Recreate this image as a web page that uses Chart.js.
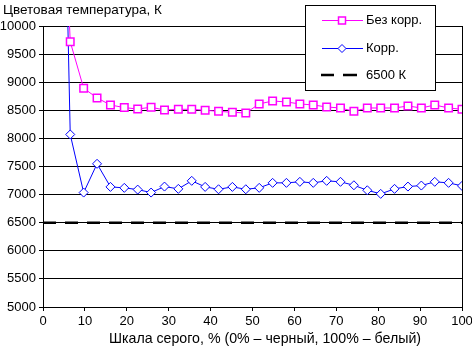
<!DOCTYPE html>
<html><head><meta charset="utf-8">
<script src="https://cdn.jsdelivr.net/npm/chart.js@4/dist/chart.umd.min.js"></script>
<style>html,body{margin:0;padding:0;background:#fff}</style>
</head><body>
<canvas id="c" width="472" height="349"></canvas>
<script>
// Gray level (%), measurement points
const grayLevels = [3.2, 6.5, 9.7, 12.9, 16.1, 19.4, 22.6, 25.8, 29.0, 32.3, 35.5, 38.7, 41.9, 45.2, 48.4, 51.6, 54.8, 58.1, 61.3, 64.5, 67.7, 71.0, 74.2, 77.4, 80.6, 83.9, 87.1, 90.3, 93.5, 96.8, 100];
// Colour temperature without correction (K)
const noCorr = [15400, 9720, 8893, 8720, 8595, 8548, 8523, 8554, 8505, 8518, 8518, 8500, 8482, 8464, 8452, 8613, 8666, 8648, 8613, 8595, 8559, 8541, 8482, 8541, 8541, 8541, 8577, 8541, 8595, 8541, 8518];
// Colour temperature with correction (K)
const corr = [19480, 8070, 7036, 7548, 7137, 7120, 7089, 7036, 7143, 7102, 7245, 7137, 7095, 7137, 7095, 7120, 7209, 7209, 7227, 7209, 7245, 7227, 7166, 7077, 7013, 7102, 7143, 7161, 7227, 7209, 7155];
// Reference 6500 K line
const refX = [0, 100];
const refY = [6500, 6500];
// Tick values
const xTicks = [0, 10, 20, 30, 40, 50, 60, 70, 80, 90, 100];
const yTicks = [5000, 5500, 6000, 6500, 7000, 7500, 8000, 8500, 9000, 9500, 10000];
// Texts
const yTitle = 'Цветовая температура, К';
const xTitle = 'Шкала серого, % (0% – черный, 100% – белый)';
const seriesNames = ['Без корр.', 'Корр.', '6500 К'];

const FONT = '"Liberation Sans", Arial, sans-serif';
const MAGENTA = '#FF00FF', BLUE = '#0000FF';

const toXY = (xs, ys) => xs.map((x, i) => ({x, y: ys[i]}));

const overlay = {
  id: 'overlay',
  afterDraw(chart) {
    const ctx = chart.ctx;
    ctx.save();
    ctx.fillStyle = '#000';
    ctx.textBaseline = 'middle';
    ctx.textAlign = 'left';
    ctx.font = '13.5px ' + FONT;
    ctx.fillText(yTitle, 3, 10);
    ctx.textAlign = 'center';
    ctx.font = '14.2px ' + FONT;
    ctx.fillText(xTitle, 265, 339);
    // legend
    const bx = 305.5, by = 5.5, bw = 130, bh = 85;
    ctx.fillStyle = '#fff';
    ctx.fillRect(bx, by, bw, bh);
    ctx.strokeStyle = '#000'; ctx.lineWidth = 1;
    ctx.strokeRect(bx, by, bw, bh);
    const lx0 = 322, lx1 = 363, mx = 342, tx = 366;
    const rows = [20.5, 48.5, 75];
    ctx.strokeStyle = MAGENTA; ctx.lineWidth = 1;
    ctx.beginPath(); ctx.moveTo(lx0, rows[0]); ctx.lineTo(lx1, rows[0]); ctx.stroke();
    ctx.fillStyle = '#fff'; ctx.lineWidth = 1.5;
    ctx.fillRect(mx - 3.5, rows[0] - 3.5, 7, 7); ctx.strokeRect(mx - 3.5, rows[0] - 3.5, 7, 7);
    ctx.strokeStyle = BLUE; ctx.lineWidth = 1;
    ctx.beginPath(); ctx.moveTo(lx0, rows[1]); ctx.lineTo(lx1, rows[1]); ctx.stroke();
    ctx.beginPath();
    ctx.moveTo(mx - 4, rows[1]); ctx.lineTo(mx, rows[1] - 4); ctx.lineTo(mx + 4, rows[1]); ctx.lineTo(mx, rows[1] + 4); ctx.closePath();
    ctx.fill(); ctx.stroke();
    ctx.strokeStyle = '#000'; ctx.lineWidth = 2.5;
    ctx.beginPath(); ctx.moveTo(321, rows[2]); ctx.lineTo(334, rows[2]); ctx.moveTo(343, rows[2]); ctx.lineTo(357, rows[2]); ctx.stroke();
    ctx.fillStyle = '#000'; ctx.textAlign = 'left';
    ctx.font = '13px ' + FONT;
    ctx.fillText(seriesNames[0], tx, rows[0]);
    ctx.fillText(seriesNames[1], tx, rows[1]);
    ctx.fillText(seriesNames[2], tx, rows[2]);
    ctx.restore();
  }
};

new Chart(document.getElementById('c'), {
  type: 'line',
  data: {
    datasets: [
      { label: seriesNames[0], data: toXY(grayLevels, noCorr), borderColor: MAGENTA, borderWidth: 1,
        pointStyle: 'rect', pointRadius: 5.3, pointBorderWidth: 1.5, pointBackgroundColor: '#fff', pointBorderColor: MAGENTA, tension: 0 },
      { label: seriesNames[1], data: toXY(grayLevels, corr), borderColor: BLUE, borderWidth: 1,
        pointStyle: 'rectRot', pointRadius: 4.5, pointBorderWidth: 1, pointBackgroundColor: '#fff', pointBorderColor: BLUE, tension: 0 },
      { label: seriesNames[2], data: toXY(refX, refY), borderColor: '#000', borderWidth: 2.5, borderDash: [13, 9],
        pointRadius: 0, tension: 0 }
    ]
  },
  options: {
    responsive: false, animation: false, devicePixelRatio: 1,
    layout: { padding: { top: 26, right: 10, left: 0, bottom: 0 } },
    plugins: { legend: { display: false }, title: { display: false }, tooltip: { enabled: false } },
    scales: {
      x: {
        type: 'linear', min: 0, max: 100,
        afterBuildTicks: s => { s.ticks = xTicks.map(v => ({value: v})); },
        afterFit: s => { s.height = 42; s.paddingLeft = 0; s.paddingRight = 0; },
        grid: { color: c => (c.tick && c.tick.value === 100) ? '#000' : 'rgba(0,0,0,0)', tickColor: '#000', tickLength: 4, lineWidth: 1 },
        border: { color: '#000', width: 1 },
        ticks: { color: '#000', font: { size: 13, family: FONT }, padding: 3, maxRotation: 0, callback: v => String(v) }
      },
      y: {
        min: 5000, max: 10000,
        afterBuildTicks: s => { s.ticks = yTicks.map(v => ({value: v})); },
        afterFit: s => { s.width = 43; s.paddingTop = 0; s.paddingBottom = 0; },
        grid: { color: '#000', tickColor: '#000', tickLength: 4, lineWidth: 1 },
        border: { color: '#000', width: 1 },
        ticks: { color: '#000', font: { size: 13, family: FONT }, padding: 3, callback: v => String(v) }
      }
    }
  },
  plugins: [overlay]
});
</script>
</body></html>
